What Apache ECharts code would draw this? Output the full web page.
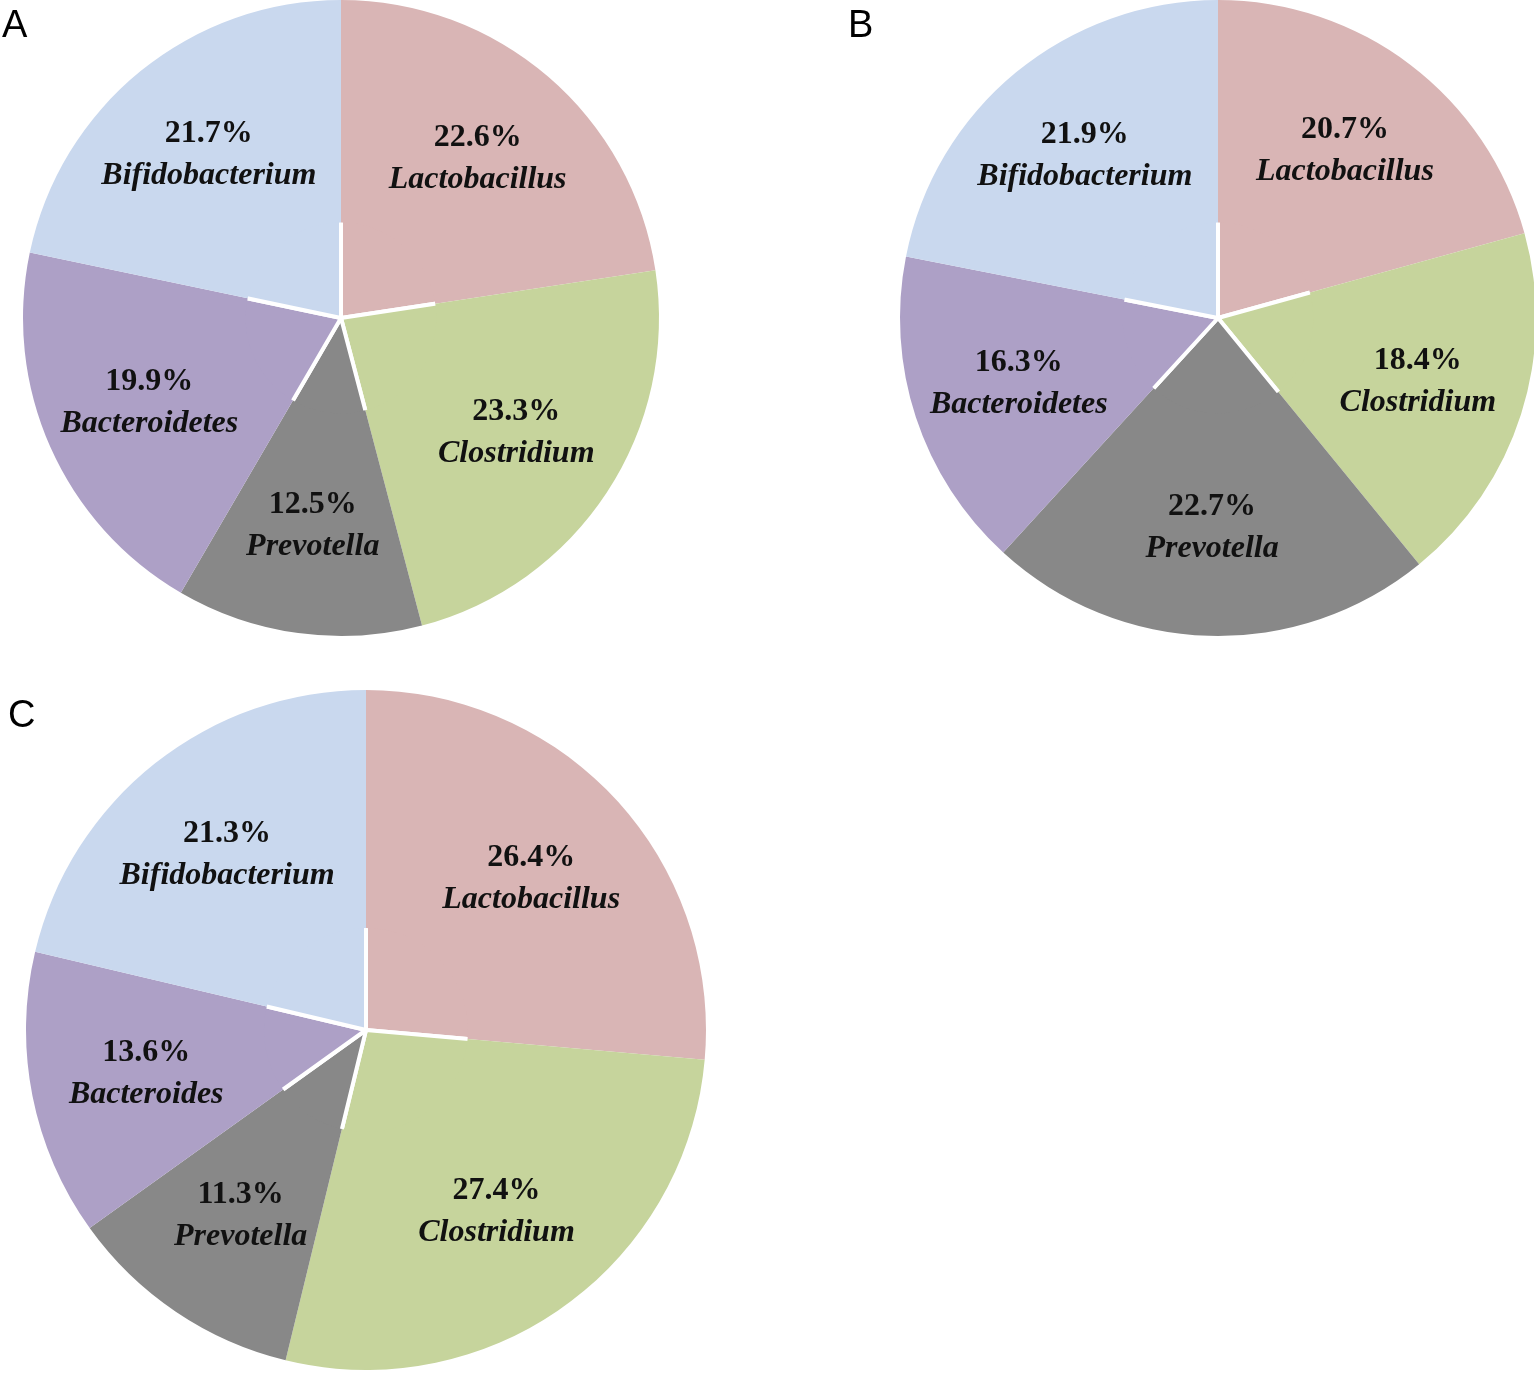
<!DOCTYPE html>
<html>
<head>
<meta charset="utf-8">
<script src="https://cdn.jsdelivr.net/npm/echarts@6/dist/echarts.min.js"></script>
<style>
  html, body { margin: 0; padding: 0; background: #fff; }
  #chart { width: 1534px; height: 1373px; }
</style>
</head>
<body>
<div id="chart"></div>
<script>
// 菌群の名前と色
const generaA = ['Lactobacillus', 'Clostridium', 'Prevotella', 'Bacteroidetes', 'Bifidobacterium'];
const generaC = ['Lactobacillus', 'Clostridium', 'Prevotella', 'Bacteroides', 'Bifidobacterium'];
const colors = ['#d9b5b5', '#c6d49c', '#888888', '#ada0c6', '#c9d8ee'];

const valuesA = [22.6, 23.3, 12.5, 19.9, 21.7];
const valuesB = [20.7, 18.4, 22.7, 16.3, 21.9];
const valuesC = [26.4, 27.4, 11.3, 13.6, 21.3];

const panelLabels = ['A', 'B', 'C'];

function buildData(names, values) {
    return names.map((n, i) => ({ name: n, value: values[i], itemStyle: { color: colors[i] } }));
}

// 可視パイ + ラベル用の透明パイ
function pieSeries(names, values, center, r) {
    const data = buildData(names, values);
    return [
        {
            type: 'pie',
            center: center,
            radius: [0, r],
            startAngle: 90,
            clockwise: true,
            silent: true,
            data: data,
            label: { show: false },
            labelLine: { show: false },
            itemStyle: { borderColor: '#fff', borderWidth: 4 }
        },
        {
            type: 'pie',
            center: center,
            radius: [r * 0.3, r],
            startAngle: 90,
            clockwise: true,
            silent: true,
            data: data,
            itemStyle: { color: 'rgba(0,0,0,0)', borderWidth: 0 },
            labelLine: { show: false },
            label: {
                show: true,
                position: 'inside',
                formatter: p => p.value.toFixed(1) + '%\n{i|' + p.name + '}',
                fontFamily: 'Liberation Serif',
                fontWeight: 'bold',
                fontSize: 32,
                lineHeight: 42,
                color: '#111',
                rich: {
                    i: {
                        fontFamily: 'Liberation Serif',
                        fontWeight: 'bold',
                        fontStyle: 'italic',
                        fontSize: 32,
                        lineHeight: 42,
                        color: '#111'
                    }
                }
            }
        }
    ];
}

const chart = echarts.init(document.getElementById('chart'));
chart.setOption({
    animation: false,
    graphic: [
        { type: 'text', left: 2, top: 8, style: { text: panelLabels[0], fontSize: 38, fontFamily: 'Liberation Sans', fill: '#000' } },
        { type: 'text', left: 848, top: 8, style: { text: panelLabels[1], fontSize: 38, fontFamily: 'Liberation Sans', fill: '#000' } },
        { type: 'text', left: 8, top: 698, style: { text: panelLabels[2], fontSize: 38, fontFamily: 'Liberation Sans', fill: '#000' } }
    ],
    series: [
        ...pieSeries(generaA, valuesA, [341, 318], 318),
        ...pieSeries(generaA, valuesB, [1218, 318], 318),
        ...pieSeries(generaC, valuesC, [366, 1030], 340)
    ]
});
</script>
</body>
</html>
